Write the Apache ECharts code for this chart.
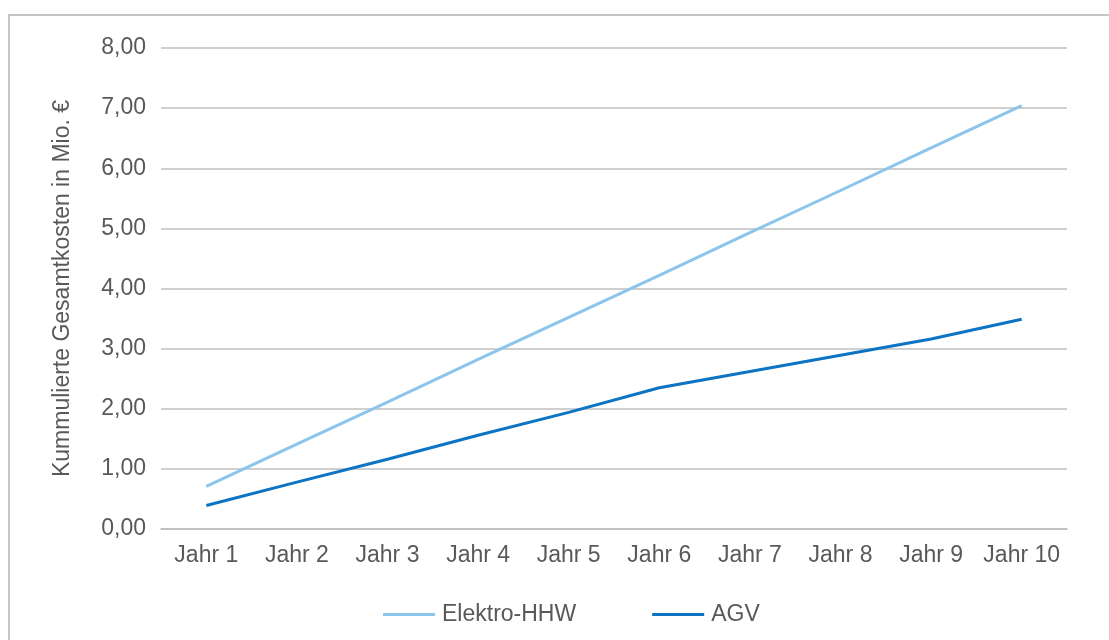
<!DOCTYPE html>
<html>
<head>
<meta charset="utf-8">
<script src="https://cdn.jsdelivr.net/npm/echarts@6/dist/echarts.min.js"></script>
<style>
  html, body { margin: 0; padding: 0; background: #fff; }
  #frame { position: absolute; left: 8px; top: 14px; width: 1110px; height: 640px;
           border: 2px solid #c6c6c6; box-sizing: border-box; }
  #chart { position: absolute; left: 0; top: 0; width: 1109px; height: 640px; }
</style>
</head>
<body>
<div id="frame"></div>
<div id="chart"></div>
<script>
// Kumulierte Gesamtkosten über zehn Jahre (Mio. €)
const categories = ['Jahr 1', 'Jahr 2', 'Jahr 3', 'Jahr 4', 'Jahr 5',
                    'Jahr 6', 'Jahr 7', 'Jahr 8', 'Jahr 9', 'Jahr 10'];
const elektroHHW = [0.71, 1.41, 2.11, 2.82, 3.52, 4.22, 4.93, 5.63, 6.34, 7.04];
const agv = [0.39, 0.78, 1.16, 1.56, 1.94, 2.35, 2.62, 2.89, 3.16, 3.49];
const yTicks = [0, 1, 2, 3, 4, 5, 6, 7, 8];

const textColor = '#595959';
const fontFamily = '"Liberation Sans", Arial, sans-serif';
const fontSize = 23;

const chart = echarts.init(document.getElementById('chart'));
chart.setOption({
  animation: false,
  textStyle: { fontFamily: fontFamily },
  grid: { left: 161, right: 42, top: 48, bottom: 111, containLabel: false },
  legend: {
    left: 378, top: 598,
    icon: 'rect',
    itemWidth: 52, itemHeight: 3, itemGap: 76,
    textStyle: { color: textColor, fontSize: fontSize, fontFamily: fontFamily, padding: [0, 0, 0, 2] },
    data: ['Elektro-HHW', 'AGV']
  },
  xAxis: {
    type: 'category',
    data: categories,
    boundaryGap: true,
    axisLine: { lineStyle: { color: '#bfbfbf', width: 1.5 } },
    axisTick: { show: false },
    axisLabel: { color: textColor, fontSize: fontSize, margin: 15, interval: 0, fontFamily: fontFamily }
  },
  yAxis: {
    type: 'value',
    min: yTicks[0], max: yTicks[yTicks.length - 1], interval: 1,
    name: 'Kummulierte Gesamtkosten in Mio. €',
    nameLocation: 'middle', nameGap: 87, nameRotate: 90,
    nameTextStyle: { color: textColor, fontSize: fontSize, fontFamily: fontFamily },
    axisLine: { show: false },
    axisTick: { show: false },
    axisLabel: {
      color: textColor, fontSize: fontSize, margin: 15, fontFamily: fontFamily,
      formatter: v => v.toFixed(2).replace('.', ',')
    },
    splitLine: { lineStyle: { color: '#bfbfbf', width: 1.5 } }
  },
  series: [
    {
      name: 'Elektro-HHW', type: 'line', data: elektroHHW,
      symbol: 'none', smooth: false,
      lineStyle: { color: '#8cc5eb', width: 3 },
      itemStyle: { color: '#8cc5eb' }
    },
    {
      name: 'AGV', type: 'line', data: agv,
      symbol: 'none', smooth: false,
      lineStyle: { color: '#0d74c4', width: 3 },
      itemStyle: { color: '#0d74c4' }
    }
  ]
});
</script>
</body>
</html>
